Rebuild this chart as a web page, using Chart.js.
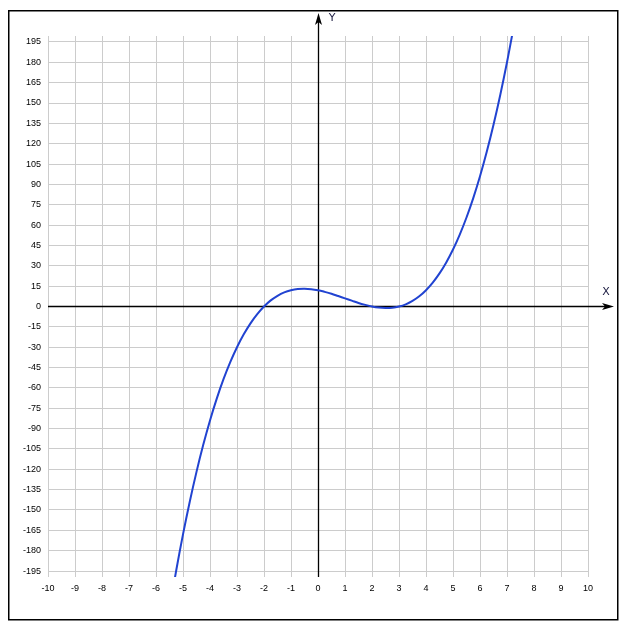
<!DOCTYPE html>
<html>
<head>
<meta charset="utf-8">
<script src="https://cdn.jsdelivr.net/npm/chart.js@4"></script>
<style>
html,body{margin:0;padding:0;background:#fff;}
#wrap{width:629px;height:635px;position:relative;}
</style>
</head>
<body>
<div id="wrap"><canvas id="c" width="629" height="635"></canvas></div>
<script>
// Values
const curveX = [-5.5,-5.25,-5,-4.75,-4.5,-4.25,-4,-3.75,-3.5,-3.25,-3,-2.75,-2.5,-2.25,-2,-1.75,-1.5,-1.25,-1,-0.75,-0.5,-0.25,0,0.25,0.5,0.75,1,1.25,1.5,1.75,2,2.25,2.5,2.75,3,3.25,3.5,3.75,4,4.25,4.5,4.75,5,5.25,5.5,5.75,6,6.25,6.5,6.75,7,7.25];
const curveY = [-223.1,-194.4,-168,-143.9,-121.9,-102.0,-84,-67.9,-53.6,-41.0,-30,-20.5,-12.4,-5.6,0,4.5,7.9,10.4,12,12.9,13.1,12.8,12,10.8,9.4,7.7,6,4.3,2.6,1.2,0,-0.8,-1.1,-0.9,0,1.6,4.1,7.5,12,17.6,24.4,32.5,42,53.0,65.6,79.9,96,114.0,133.9,155.9,180,206.4];
const xTicks = [-10,-9,-8,-7,-6,-5,-4,-3,-2,-1,0,1,2,3,4,5,6,7,8,9,10];
const yTicks = [-195,-180,-165,-150,-135,-120,-105,-90,-75,-60,-45,-30,-15,0,15,30,45,60,75,90,105,120,135,150,165,180,195];
const xLabel = 'X';
const yLabel = 'Y';

const points = curveX.map((x,i)=>({x:x,y:curveY[i]}));

const axesPlugin = {
  id:'axesPlugin',
  beforeDatasetsDraw(chart){
    const ctx = chart.ctx;
    const xs = chart.scales.x, ys = chart.scales.y;
    const a = chart.chartArea;
    const x0 = Math.round(xs.getPixelForValue(0)) + 0.5;
    const y0 = Math.floor(ys.getPixelForValue(0)) + 0.5;
    ctx.save();
    ctx.strokeStyle = '#000';
    ctx.fillStyle = '#000';
    ctx.lineWidth = 1.3;
    ctx.beginPath();
    ctx.moveTo(x0, a.bottom);
    ctx.lineTo(x0, 20);
    ctx.stroke();
    ctx.beginPath();
    ctx.moveTo(a.left, y0);
    ctx.lineTo(608, y0);
    ctx.stroke();
    ctx.beginPath();
    ctx.moveTo(x0, 13);
    ctx.lineTo(x0-3.5, 25);
    ctx.lineTo(x0, 22);
    ctx.lineTo(x0+3.5, 25);
    ctx.closePath();
    ctx.fill();
    ctx.beginPath();
    ctx.moveTo(614, y0);
    ctx.lineTo(602, y0-3.5);
    ctx.lineTo(605, y0);
    ctx.lineTo(602, y0+3.5);
    ctx.closePath();
    ctx.fill();
    ctx.restore();
  },
  afterDraw(chart){
    const ctx = chart.ctx;
    ctx.save();
    ctx.strokeStyle = '#000';
    ctx.lineWidth = 1.5;
    ctx.strokeRect(8.75, 10.75, 609, 609);
    ctx.fillStyle = '#1a1a40';
    ctx.font = '11px "DejaVu Sans", sans-serif';
    ctx.textAlign = 'center';
    ctx.textBaseline = 'middle';
    ctx.fillText(yLabel, 332, 18);
    ctx.fillText(xLabel, 606, 292);
    ctx.restore();
  }
};

new Chart(document.getElementById('c'), {
  type:'scatter',
  data:{
    datasets:[{
      data: points,
      showLine:true,
      borderColor:'#2143d1',
      borderWidth:2,
      pointRadius:0,
      tension:0.4,
      fill:false
    }]
  },
  options:{
    responsive:false,
    animation:false,
    devicePixelRatio:1,
    layout:{padding:{left:0,top:36,right:41,bottom:0}},
    elements:{line:{capBezierPoints:false}},
    plugins:{legend:{display:false},tooltip:{enabled:false}},
    scales:{
      x:{
        type:'linear', min:-10, max:10,
        afterBuildTicks(s){ s.ticks = xTicks.map(v=>({value:v})); },
        afterFit(s){ s.height = 58; },
        ticks:{ color:'#000', font:{family:'"Liberation Sans", sans-serif', size:9}, padding:6, autoSkip:false, maxRotation:0 },
        grid:{ color:'#cccccc', lineWidth:1, drawTicks:false },
        border:{ display:false }
      },
      y:{
        type:'linear', min:-199.4, max:199.4,
        afterBuildTicks(s){ s.ticks = yTicks.map(v=>({value:v})); },
        afterFit(s){ s.width = 48; },
        ticks:{ color:'#000', font:{family:'"Liberation Sans", sans-serif', size:9}, padding:7, autoSkip:false },
        grid:{ color:'#cccccc', lineWidth:1, drawTicks:false },
        border:{ display:false }
      }
    }
  },
  plugins:[axesPlugin]
});
</script>
</body>
</html>
